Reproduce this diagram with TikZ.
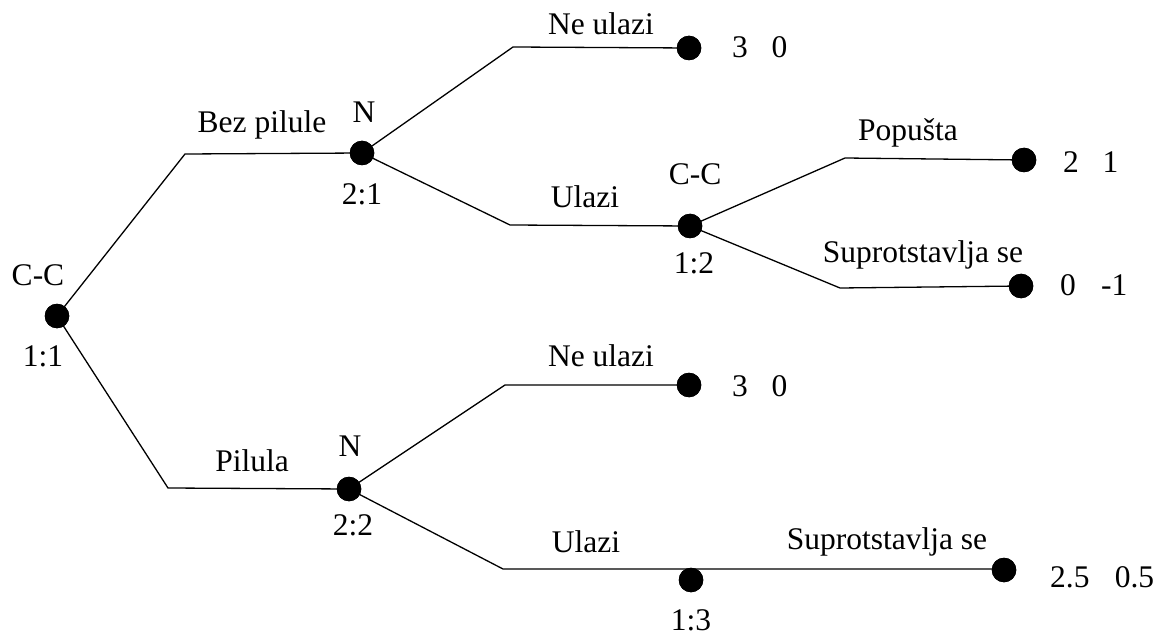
\documentclass[tikz,border=0pt]{standalone}
\usepackage{fontspec}
\setmainfont{Liberation Serif}
\begin{document}
\begin{tikzpicture}[x=1pt,y=-1pt,
  dot/.style={circle,fill=black,draw=none,inner sep=0pt,minimum size=24.5pt},
  lbl/.style={inner sep=0pt,anchor=base,font=\fontsize{31.5}{36}\selectfont},
  pay/.style={inner sep=0pt,anchor=base west,font=\fontsize{31.5}{36}\selectfont},
  edge/.style={line width=1.3pt,line join=miter}]
\useasboundingbox (0,0) rectangle (1156,636);
% decision nodes and leaves
\node[dot] (root) at (57,316) {};
\node[dot] (n1) at (362,153) {};
\node[dot] (cc) at (690,226) {};
\node[dot] (l1) at (689,48) {};
\node[dot] (l2) at (1024,160) {};
\node[dot] (l3) at (1021,286) {};
\node[dot] (n2) at (349,489) {};
\node[dot] (l4) at (689,385) {};
\node[dot] (m3) at (691,580) {};
\node[dot] (l5) at (1004,570) {};
% corners
\coordinate (c1) at (185,154);
\coordinate (c2) at (168,488);
\coordinate (c3) at (513,47);
\coordinate (c4) at (510,225);
\coordinate (c5) at (845,158);
\coordinate (c6) at (840,288);
\coordinate (c7) at (505,385);
\coordinate (c8) at (503,569);
\coordinate (e8) at (1004,569);
% connectors
\draw[edge] (root.center) -- (c1) -- (n1.center);
\draw[edge] (root.center) -- (c2) -- (n2.center);
\draw[edge] (n1.center) -- (c3) -- (l1.center);
\draw[edge] (n1.center) -- (c4) -- (cc.center);
\draw[edge] (cc.center) -- (c5) -- (l2.center);
\draw[edge] (cc.center) -- (c6) -- (l3.center);
\draw[edge] (n2.center) -- (c7) -- (l4.center);
\draw[edge] (n2.center) -- (c8) -- (e8);
% redraw dots on top
\foreach \d in {root,n1,cc,l1,l2,l3,n2,l4,m3,l5}{\fill (\d) circle (12.25pt);}
% labels
\node[lbl] (t1) at (38,285) {C-C};
\node[lbl] (t2) at (43,366) {1:1};
\node[lbl] (t3) at (262,133) {Bez pilule};
\node[lbl] (t4) at (364,123) {N};
\node[lbl] (t5) at (362,205) {2:1};
\node[lbl] (t6) at (601,35) {Ne ulazi};
\node[lbl] (t7) at (585,208) {Ulazi};
\node[lbl] (t8) at (695,185) {C-C};
\node[lbl] (t9) at (694,274) {1:2};
\node[lbl] (t10) at (908,141) {Popušta};
\node[lbl] (t11) at (923,263) {Suprotstavlja se};
\node[lbl] (t12) at (252,471) {Pilula};
\node[lbl] (t13) at (350,456) {N};
\node[lbl] (t14) at (353,535) {2:2};
\node[lbl] (t15) at (601,366) {Ne ulazi};
\node[lbl] (t16) at (586,552) {Ulazi};
\node[lbl] (t17) at (691,630) {1:3};
\node[lbl] (t18) at (887,549) {Suprotstavlja se};
% payoffs
\node[pay] (p1) at (732,58) {3\hspace{0.75em}0};
\node[pay] (p2) at (1063,173) {2\hspace{0.75em}1};
\node[pay] (p3) at (1060,295) {0\hspace{0.8em}-1};
\node[pay] (p4) at (732,396) {3\hspace{0.75em}0};
\node[pay] (p5) at (1050,587) {2.5\hspace{0.8em}0.5};
\end{tikzpicture}
\end{document}
